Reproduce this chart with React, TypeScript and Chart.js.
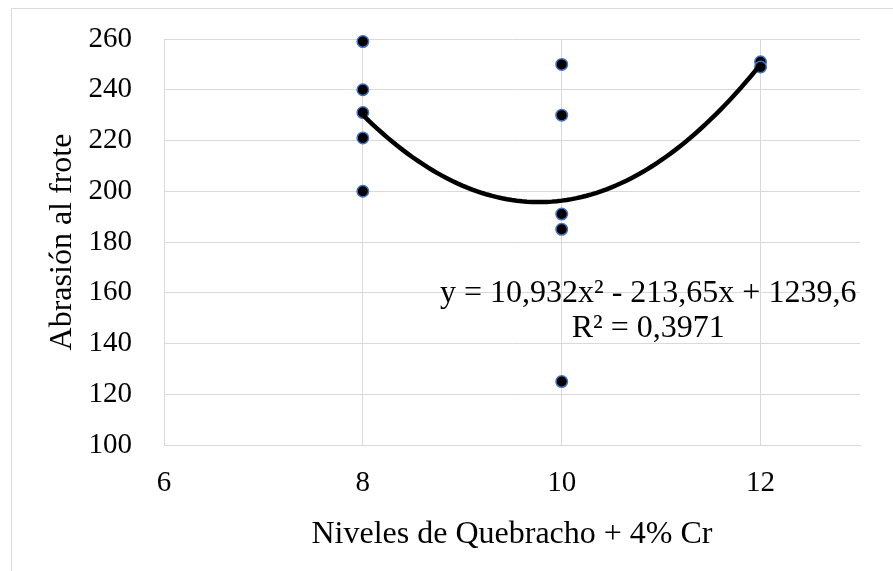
import React, { useEffect, useRef } from "react";
import { Chart, registerables } from "chart.js";

Chart.register(...registerables);

// Data
const quebrachoLevels = [8, 8, 8, 8, 8, 10, 10, 10, 10, 10, 12, 12];
const abrasionValues = [259, 240, 231, 221, 200, 250, 230, 191, 185, 125, 251, 249];

// Polynomial trendline (order 2) as printed on the chart
const trendCoefficients = [10.932, -213.65, 1239.6]; // a, b, c
const trendFrom = 8;
const trendTo = 12;
const trendSamples = 80;
const equationLines = ["y = 10,932x² - 213,65x + 1239,6", "R² = 0,3971"];
const equationAnchor = { x: 10.87, y: 156.5 };

// Axes
const xMin = 6;
const xMax = 13;
const xStep = 2;
const yMin = 100;
const yMax = 260;
const yStep = 20;
const xTitle = "Niveles de Quebracho + 4% Cr";
const yTitle = "Abrasión al frote";

const FONT = "'Liberation Serif', 'Times New Roman', serif";
const GRID = "#d9d9d9";

export default function App() {
  const canvasRef = useRef<HTMLCanvasElement | null>(null);

  useEffect(() => {
    const canvas = canvasRef.current;
    if (!canvas) return;

    const points = quebrachoLevels.map((x, i) => ({ x, y: abrasionValues[i] }));
    const [a, b, c] = trendCoefficients;
    const trend: { x: number; y: number }[] = [];
    for (let i = 0; i <= trendSamples; i++) {
      const x = trendFrom + ((trendTo - trendFrom) * i) / trendSamples;
      trend.push({ x, y: a * x * x + b * x + c });
    }

    const framePlugin = {
      id: "frame",
      beforeDraw(chart: any) {
        const ctx = chart.ctx;
        ctx.save();
        ctx.fillStyle = "#ffffff";
        ctx.fillRect(0, 0, chart.width, chart.height);
        ctx.strokeStyle = GRID;
        ctx.lineWidth = 1;
        ctx.beginPath();
        ctx.moveTo(11.5, chart.height);
        ctx.lineTo(11.5, 8.5);
        ctx.lineTo(chart.width, 8.5);
        ctx.stroke();
        ctx.restore();
      },
    };

    const equationPlugin = {
      id: "equation",
      afterDatasetsDraw(chart: any) {
        const ctx = chart.ctx;
        const xs = chart.scales.x;
        const ys = chart.scales.y;
        const cx = xs.getPixelForValue(equationAnchor.x);
        const cy = ys.getPixelForValue(equationAnchor.y);
        ctx.save();
        ctx.fillStyle = "#000000";
        ctx.font = `32px ${FONT}`;
        ctx.textAlign = "center";
        ctx.textBaseline = "alphabetic";
        equationLines.forEach((line, i) => {
          ctx.fillText(line, cx, cy + i * 35);
        });
        ctx.restore();
      },
    };

    const chart = new Chart(canvas, {
      type: "scatter",
      data: {
        datasets: [
          {
            label: "Tendencia",
            data: trend,
            showLine: true,
            borderColor: "#000000",
            borderWidth: 4.5,
            pointRadius: 0,
            fill: false,
            clip: false,
            order: 0,
          } as any,
          {
            label: "Abrasión",
            data: points,
            pointRadius: 5.75,
            pointBackgroundColor: "#000000",
            pointBorderColor: "#4472c4",
            pointBorderWidth: 1.5,
            clip: false,
            order: 1,
          } as any,
        ],
      },
      options: {
        responsive: false,
        animation: false,
        layout: { padding: { left: 0, right: 33, top: 39, bottom: 0 } },
        plugins: {
          legend: { display: false },
          tooltip: { enabled: false },
        },
        scales: {
          x: {
            type: "linear",
            min: xMin,
            max: xMax,
            afterBuildTicks(scale: any) {
              scale.ticks = scale.ticks.filter((t: any) => t.value !== xMax);
            },
            afterFit(scale: any) {
              scale.height = 126;
              scale.paddingLeft = 0;
              scale.paddingRight = 0;
            },
            ticks: {
              stepSize: xStep,
              color: "#000000",
              padding: 21,
              font: { family: FONT, size: 29 },
            },
            grid: { color: GRID, drawTicks: false },
            border: { color: GRID },
            title: {
              display: true,
              text: xTitle,
              color: "#000000",
              font: { family: FONT, size: 32 },
              padding: { top: 0, bottom: 17 },
            },
          },
          y: {
            type: "linear",
            min: yMin,
            max: yMax,
            afterFit(scale: any) {
              scale.width = 164;
              scale.paddingTop = 0;
              scale.paddingBottom = 0;
            },
            ticks: {
              stepSize: yStep,
              color: "#000000",
              padding: 32,
              font: { family: FONT, size: 29 },
            },
            grid: { color: GRID, drawTicks: false },
            border: { color: GRID },
            title: {
              display: true,
              text: yTitle,
              color: "#000000",
              font: { family: FONT, size: 32 },
              padding: { top: 43, bottom: 0 },
            },
          },
        },
      },
      plugins: [framePlugin, equationPlugin],
    });

    return () => chart.destroy();
  }, []);

  return (
    <div style={{ position: "fixed", left: 0, top: 0, width: 893, height: 571, background: "#fff" }}>
      <canvas ref={canvasRef} width={893} height={571} />
    </div>
  );
}
